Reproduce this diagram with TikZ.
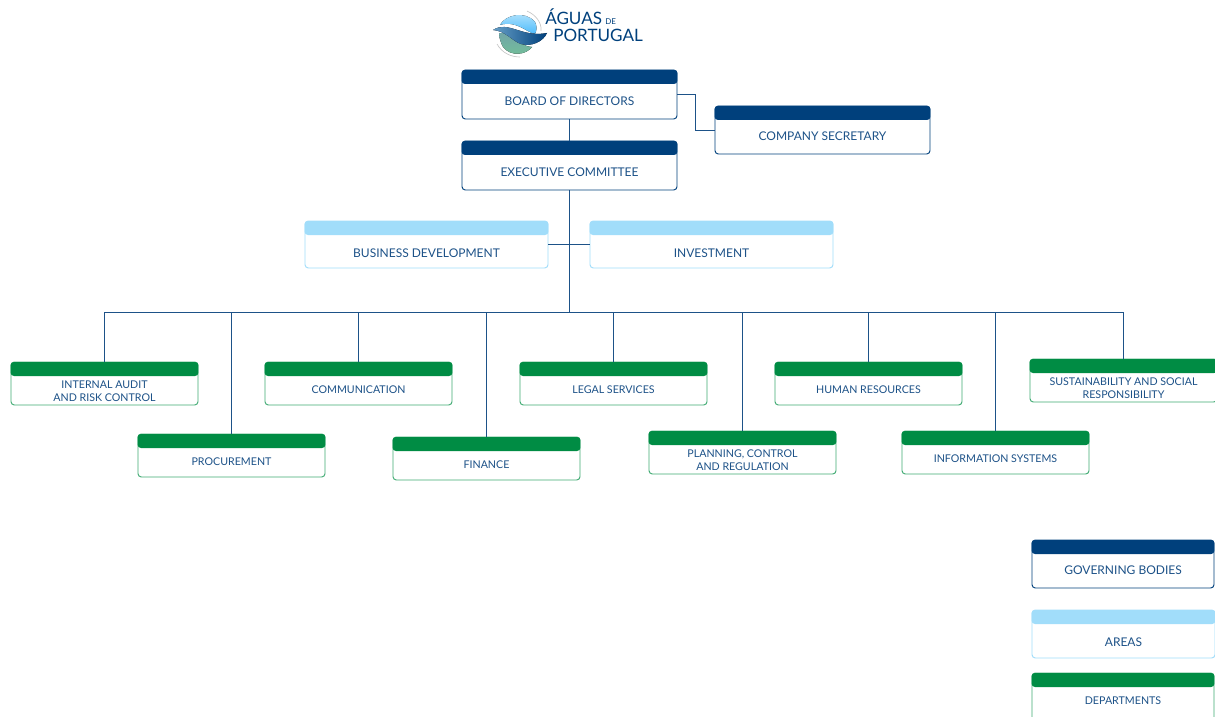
\documentclass[tikz,border=0pt]{standalone}
\usepackage{fontspec}
\setmainfont{Lato}
\definecolor{navy}{HTML}{00407C}
\definecolor{sky}{HTML}{A1DDFA}
\definecolor{leaf}{HTML}{008C44}
\definecolor{leafline}{HTML}{3FAA72}
\definecolor{inkblue}{HTML}{1D5288}
\tikzset{
	orgbody/.style={draw=#1,fill=white,rounded corners=2.5pt,line width=.7pt,inner sep=0pt,outer sep=0pt,anchor=north west},
	orghead/.style={fill=#1,rounded corners=2.5pt,inner sep=0pt,outer sep=0pt,anchor=north},
	orgtext/.style={text=inkblue,align=center,inner sep=0pt,font=\fontsize{9}{9.8}\selectfont},
	linkline/.style={draw=inkblue,line width=.7pt},
}
% name, left, top, width, height, line colour, head colour, text centre below top, text
\newcommand{\orgbox}[9]{
	\node[orgbody=#6,minimum width=#4*.75pt,minimum height=#5*.75pt] (#1) at (#2,#3) {};
	\node[orghead=#7,minimum width=#4*.75pt+.7pt,minimum height=14*.75pt] (#1head) at (#1.north) {};
	\node[orgtext] (#1text) at ([yshift=-#8*.75pt]#1.north) {#9};
}
\begin{document}
\begin{tikzpicture}[x=.75pt,y=-.75pt]
	\path[use as bounding box,clip] (0,0) rectangle (1215,717);

	\coordinate (bus) at (569.5,312);
	\coordinate (bend) at (695,94.5);

	\orgbox{board}{462}{70}{215}{49}{navy}{navy}{31}{BOARD OF DIRECTORS}
	\orgbox{secretary}{715}{106}{215}{48}{navy}{navy}{30}{COMPANY SECRETARY}
	\orgbox{exec}{462}{141}{215}{49}{navy}{navy}{31}{EXECUTIVE COMMITTEE}
	\orgbox{business}{305}{221}{243}{47}{sky}{sky}{32}{BUSINESS DEVELOPMENT}
	\orgbox{invest}{590}{221}{243}{47}{sky}{sky}{32}{INVESTMENT}

	\begin{scope}[orgtext/.append style={font=\fontsize{8}{9.8}\selectfont}]
		\orgbox{audit}{11}{362}{187}{43}{leafline}{leaf}{29.5}{INTERNAL AUDIT\\AND RISK CONTROL}
		\orgbox{comms}{265}{362}{187}{43}{leafline}{leaf}{28}{COMMUNICATION}
		\orgbox{legal}{520}{362}{187}{43}{leafline}{leaf}{28}{LEGAL SERVICES}
		\orgbox{people}{775}{362}{187}{43}{leafline}{leaf}{28}{HUMAN RESOURCES}
		\orgbox{sustain}{1030}{359}{187}{43}{leafline}{leaf}{29.5}{SUSTAINABILITY AND SOCIAL\\RESPONSIBILITY}
		\orgbox{procure}{138}{434}{187}{43}{leafline}{leaf}{28}{PROCUREMENT}
		\orgbox{finance}{393}{437}{187}{43}{leafline}{leaf}{28}{FINANCE}
		\orgbox{planning}{649}{431}{187}{43}{leafline}{leaf}{29.5}{PLANNING, CONTROL\\AND REGULATION}
		\orgbox{systems}{902}{431}{187}{43}{leafline}{leaf}{28}{INFORMATION SYSTEMS}
		\orgbox{keydept}{1032}{673}{182}{57}{leafline}{leaf}{28}{DEPARTMENTS}
	\end{scope}

	\orgbox{keygov}{1032}{540}{182}{48}{navy}{navy}{30}{GOVERNING BODIES}
	\orgbox{keyarea}{1032}{610}{183}{48}{sky}{sky}{32}{AREAS}

	\draw[linkline] (board.south) -- (exec.north);
	\draw[linkline] (board.east) -- (bend) |- (secretary.west);
	\draw[linkline] (exec.south) -- (bus);
	\draw[linkline] (business.east) -- (invest.west);
	\foreach \dept in {audit,procure,comms,finance,legal,planning,people,systems,sustain}
		\draw[linkline] (\dept.north) |- (bus);

	% logo
	\draw[gray!45,line width=.5pt] (527,11) .. controls (536,15) and (542,23) .. (541,31);
	\draw[gray!45,line width=.5pt] (497,44) .. controls (502,53) and (511,57) .. (520,57);
	\fill[top color=sky!70!white,bottom color=sky!60!cyan!80!blue] (500,25) .. controls (505,15) and (525,10) .. (535,22) .. controls (537,26) and (537,30) .. (535,34) .. controls (526,32) and (516,20) .. (500,25);
	\fill[top color=leaf!35!inkblue!60,bottom color=leaf!55!white] (499,33) .. controls (510,31) and (520,47) .. (532,47) .. controls (526,55) and (511,57) .. (503,47) .. controls (501,43) and (499,38) .. (499,33);
	\fill[left color=inkblue!45!sky,right color=navy] (493,30) .. controls (508,20) and (522,38) .. (547,33) .. controls (543,42) and (531,47) .. (521,44) .. controls (512,41) and (506,31) .. (493,30);
	\node[inner sep=0pt,anchor=base west,text=navy,font=\fontsize{12.8}{14}\selectfont] (logoa) at (545,25) {ÁGUAS};
	\node[inner sep=0pt,anchor=base west,text=navy,font=\fontsize{6}{7}\selectfont] (logob) at (605,25) {DE};
	\node[inner sep=0pt,anchor=base west,text=navy,font=\fontsize{12.8}{14}\selectfont] (logoc) at (553,41.5) {PORTUGAL};
\end{tikzpicture}
\end{document}
